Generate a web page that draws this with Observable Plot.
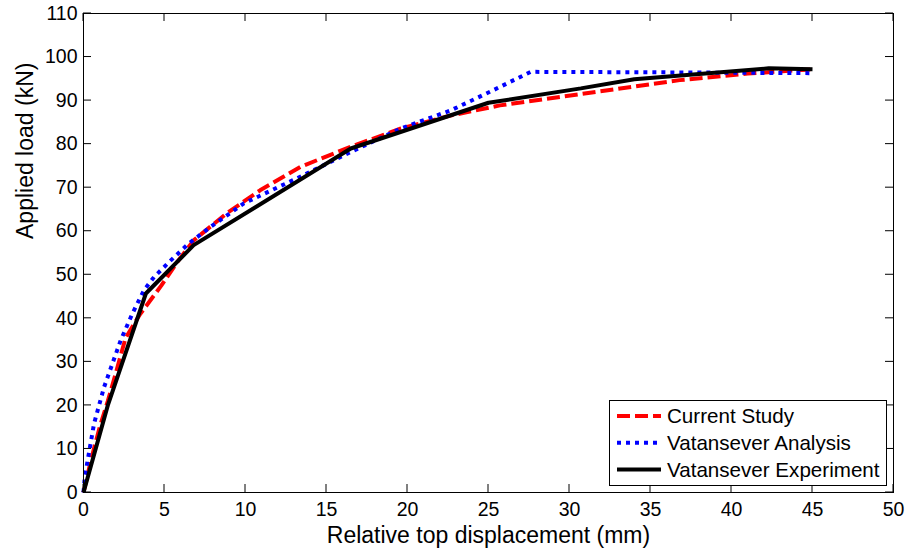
<!DOCTYPE html>
<html><head><meta charset="utf-8">
<script src="https://cdn.jsdelivr.net/npm/d3@7"></script>
<script src="https://cdn.jsdelivr.net/npm/@observablehq/plot@0.6"></script>
<style>body{margin:0;background:#fff;} svg{font-family:"Liberation Sans",Arial,sans-serif;}</style>
</head><body><div id="chart"></div>
<script>
const xTicks = [0,5,10,15,20,25,30,35,40,45,50];
const yTicks = [0,10,20,30,40,50,60,70,80,90,100,110];
const xLabel = "Relative top displacement (mm)";
const yLabel = "Applied load (kN)";
const seriesNames = ["Current Study","Vatansever Analysis","Vatansever Experiment"];
const seriesColors = ["#ff0000","#0000ff","#000000"];
const seriesDash = ["13,5","4,5","none"];

const currentX = [0,0.5,1.0,1.5,2.0,2.6,3.5,4.8,5.8,6.8,8.8,10.9,13.4,16.5,19.6,22.7,25.7,30.7,36.8,41,45];
const currentY = [0,8,15,21,27.5,35.5,41,47.5,53,57.9,64.0,69.4,74.8,79.4,83.6,86.6,88.9,91.5,94.7,96.2,97.2];
const analysisX = [0,0.08,0.65,1.27,2.3,3.02,3.74,4.36,5.39,6.5,7.85,9.9,13.2,16.5,19.6,22.7,25.3,27.6,35,45];
const analysisY = [0,3.6,15.8,24.2,35,41.1,46.5,49.5,53.3,57.2,61,66.4,72.2,78.2,83.6,87.8,92.4,96.6,96.5,96.3];
const experimentX = [0,1.5,3.85,6.8,16.5,25,30.7,34,42.3,45];
const experimentY = [0,20,45.7,56.8,79,89.5,92.8,94.9,97.4,97.2];

const seriesX = [currentX, analysisX, experimentX];
const seriesY = [currentY, analysisY, experimentY];
const rows = seriesNames.map((name,i)=>seriesX[i].map((x,j)=>({series:name, x, y: seriesY[i][j]})));

const lineMarks = rows.map((r,i)=>Plot.line(r,{x:"x", y:"y", stroke:seriesColors[i], strokeWidth:4,
  strokeDasharray:seriesDash[i], strokeLinecap:"butt", strokeLinejoin:"miter"}));

const svg = Plot.plot({
  width:905, height:552, marginLeft:83, marginRight:12, marginTop:13, marginBottom:60,
  style:{fontFamily:"Liberation Sans, Arial, sans-serif", fontSize:"19.5px", color:"black", background:"white", overflow:"visible"},
  x:{domain:[0,50]},
  y:{domain:[0,110]},
  marks:[
    ...lineMarks,
    Plot.frame({stroke:"black", strokeWidth:1}),
    Plot.axisX(xTicks,{anchor:"bottom", tickSize:0, tickPadding:10, label:null, fontSize:19.5}),
    Plot.axisY(yTicks,{anchor:"left", tickSize:0, tickPadding:6, label:null, fontSize:19.5}),
    Plot.text([xLabel],{frameAnchor:"bottom", dy:43, lineAnchor:"middle", fontSize:23, fill:"black"}),
    Plot.text([yLabel],{frameAnchor:"left", rotate:-90, dx:-58, dy:-14, lineAnchor:"middle", fontSize:23, fill:"black"})
  ]
});
document.getElementById("chart").appendChild(svg);

// inward ticks on all four sides, positioned through the plot's own scales
const sx = svg.scale("x"), sy = svg.scale("y");
const x0 = sx.apply(0), x1 = sx.apply(50), y0 = sy.apply(0), y1 = sy.apply(110);
const tk = 8;
const tg = d3.select(svg).append("g").attr("stroke","black").attr("stroke-width",1);
xTicks.forEach(v=>{
  const px = sx.apply(v);
  tg.append("line").attr("x1",px).attr("x2",px).attr("y1",y0).attr("y2",y0-tk);
  tg.append("line").attr("x1",px).attr("x2",px).attr("y1",y1).attr("y2",y1+tk);
});
yTicks.forEach(v=>{
  const py = sy.apply(v);
  tg.append("line").attr("y1",py).attr("y2",py).attr("x1",x0).attr("x2",x0+tk);
  tg.append("line").attr("y1",py).attr("y2",py).attr("x1",x1).attr("x2",x1-tk);
});

// legend
const lg = d3.select(svg).append("g").attr("font-size",20.6).attr("text-anchor","start")
  .attr("font-family","Liberation Sans, Arial, sans-serif");
lg.append("rect").attr("x",609.5).attr("y",400.5).attr("width",277).attr("height",85)
  .attr("fill","white").attr("stroke","black").attr("stroke-width",1);
seriesNames.forEach((name,i)=>{
  const yy = 416 + i*26.7;
  lg.append("line").attr("x1",617).attr("x2",661).attr("y1",yy).attr("y2",yy)
    .attr("stroke",seriesColors[i]).attr("stroke-width",4)
    .attr("stroke-dasharray",seriesDash[i]==="none"?null:seriesDash[i]);
  lg.append("text").attr("x",667).attr("y",yy).attr("dy","0.35em").attr("fill","black").text(name);
});
</script></body></html>
